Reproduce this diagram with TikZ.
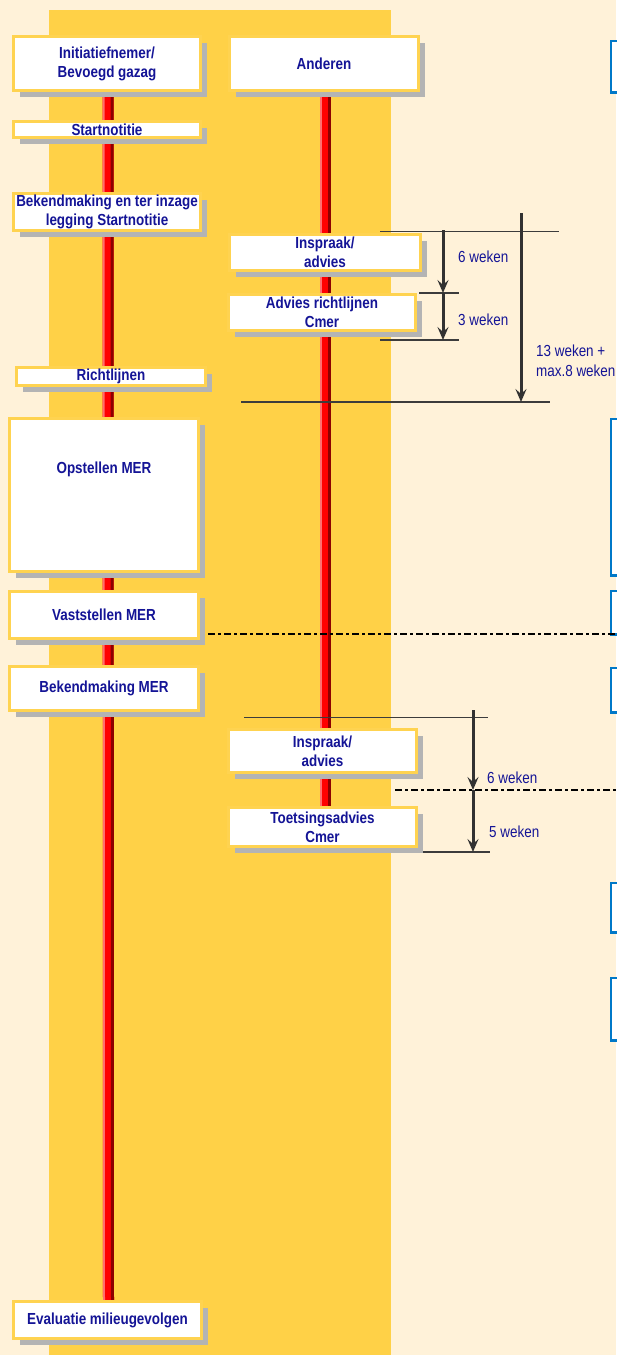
\documentclass[tikz,border=0pt]{standalone}
\usepackage{fontspec}
\setmainfont{Liberation Sans}[FakeStretch=0.84]
\usetikzlibrary{arrows.meta,shadows}
\definecolor{cream}{RGB}{255,242,217}
\definecolor{band}{RGB}{255,209,71}
\definecolor{boxyellow}{RGB}{255,211,80}
\definecolor{shadowgray}{RGB}{180,180,180}
\definecolor{navy}{RGB}{20,20,150}
\definecolor{redlight}{RGB}{255,110,110}
\definecolor{redmid}{RGB}{255,0,0}
\definecolor{reddark}{RGB}{140,0,0}
\definecolor{arrowgray}{RGB}{50,50,50}
\definecolor{thingray}{RGB}{60,60,60}
\definecolor{bluebox}{RGB}{0,120,200}
\pgfdeclarelayer{back}
\pgfdeclarelayer{mid}
\pgfsetlayers{back,mid,main}
\tikzset{
  box/.style={draw=boxyellow, line width=3pt, fill=white,
    drop shadow={shadow xshift=6pt, shadow yshift=-6pt, fill=shadowgray, opacity=1},
    font=\bfseries\fontsize{16}{19}\selectfont, text=navy, align=center, inner sep=0pt},
  boxtext/.style={font=\bfseries\fontsize{16}{19}\selectfont, text=navy, inner sep=0pt},
  bbox/.style={draw=bluebox, line width=2.5pt, fill=white,
    drop shadow={shadow xshift=6pt, shadow yshift=-6pt, fill=shadowgray, opacity=1},
    anchor=north west, minimum width=40pt, inner sep=0pt},
  lbl/.style={font=\fontsize{16}{20}\selectfont, text=navy, anchor=west, inner sep=0pt, align=left},
  arr/.style={draw=arrowgray, line width=3pt, -{Stealth[length=13pt,width=11pt,inset=5pt]}},
  thin/.style={draw=thingray, line width=1.1pt},
  dashdot/.style={draw=black, line width=2pt, dash pattern=on 7pt off 3pt on 3pt off 3pt},
  redbar/.style={draw=redmid, line width=11pt},
  redlt/.style={draw=redlight, line width=2pt},
  reddk/.style={draw=reddark, line width=3pt}
}
\begin{document}
\begin{tikzpicture}[x=1pt,y=-1pt]
\useasboundingbox (0,0) rectangle (616,1355);
\begin{pgfonlayer}{back}
  \fill[cream] (0,0) rectangle (616,1355);
  \fill[band] (49,10) rectangle (390.5,1355);
\end{pgfonlayer}

% left column
\node[box, minimum width=187pt, minimum height=54pt] (ini) at (107,63.5) {Initiatiefnemer/\\Bevoegd gazag};
\node[box, minimum width=187pt, minimum height=16pt] (start) at (107,129.5) {Startnotitie};
\node[box, minimum width=187pt, minimum height=37pt] (bek1) at (107,212) {Bekendmaking en ter inzage\\legging Startnotitie};
\node[box, minimum width=189pt, minimum height=18pt] (richt) at (111,376.5) {Richtlijnen};
\node[box, minimum width=189pt, minimum height=153pt,
      label={[boxtext, yshift=26pt]center:Opstellen MER}] (opst) at (104,495) {};
\node[box, minimum width=189pt, minimum height=47pt] (vast) at (104,615) {Vaststellen MER};
\node[box, minimum width=189pt, minimum height=44pt] (bekm) at (104,688.5) {Bekendmaking MER};
\node[box, minimum width=188pt, minimum height=37pt] (eval) at (107.5,1320) {Evaluatie milieugevolgen};

% centre column
\node[box, minimum width=189pt, minimum height=54pt] (and) at (324,63.5) {Anderen};
\node[box, minimum width=191pt, minimum height=36pt] (insp1) at (325,252.5) {Inspraak/\\advies};
\node[box, minimum width=187pt, minimum height=36pt] (adv) at (322,312.5) {Advies richtlijnen\\Cmer};
\node[box, minimum width=188pt, minimum height=43pt] (insp2) at (322.5,751) {Inspraak/\\advies};
\node[box, minimum width=188pt, minimum height=39pt] (toets) at (322.5,827) {Toetsingsadvies\\Cmer};

% right edge boxes (cut off)
\node[bbox, minimum height=51.5pt] (r1) at (609.5,39.5) {};
\node[bbox, minimum height=156.5pt] (r2) at (609.5,417.5) {};
\node[bbox, minimum height=43.5pt] (r3) at (609.5,589.5) {};
\node[bbox, minimum height=44.5pt] (r4) at (609.5,666.5) {};
\node[bbox, minimum height=49.5pt] (r5) at (609.5,881.5) {};
\node[bbox, minimum height=62.5pt] (r6) at (609.5,976.5) {};

% red time lines
\begin{pgfonlayer}{mid}
  \draw[redbar] ([xshift=1pt]ini.south) -- ([xshift=1pt]eval.north);
  \draw[redlt] ([xshift=-3.5pt]ini.south) -- ([xshift=-3.5pt]eval.north);
  \draw[reddk] ([xshift=5pt]ini.south) -- ([xshift=5pt]eval.north);
  \draw[redbar] ([xshift=1pt]and.south) -- ([xshift=2.5pt]toets.north);
  \draw[redlt] ([xshift=-3.5pt]and.south) -- ([xshift=-2pt]toets.north);
  \draw[reddk] ([xshift=5pt]and.south) -- ([xshift=6.5pt]toets.north);

  % thin marker lines
  \coordinate (h1a) at (380,231.5); \coordinate (h1b) at (559,231.5);
  \coordinate (h2a) at (419,293);   \coordinate (h2b) at (459,293);
  \coordinate (h3a) at (380,340);   \coordinate (h3b) at (459,340);
  \coordinate (h4a) at (241,402);   \coordinate (h4b) at (550,402);
  \coordinate (h5a) at (244,717.5); \coordinate (h5b) at (488,717.5);
  \coordinate (h6a) at (423,852);   \coordinate (h6b) at (490,852);
  \draw[thin] (h1a) -- (h1b);
  \draw[thin] (h2a) -- (h2b);
  \draw[thin] (h3a) -- (h3b);
  \draw[thin] (h4a) -- (h4b);
  \draw[thin] (h5a) -- (h5b);
  \draw[thin] (h6a) -- (h6b);
\end{pgfonlayer}

% duration arrows
\coordinate (a1) at (443,230);
\coordinate (a2) at (443,293);
\coordinate (a3) at (443,340);
\coordinate (c1) at (521,213);
\coordinate (c2) at (521,402);
\coordinate (e1) at (473,710);
\coordinate (e2) at (473,790);
\coordinate (e3) at (473,852);
\draw[arr] (a1) -- (a2);
\draw[arr] (a2) -- (a3);
\draw[arr] (c1) -- (c2);
\draw[arr] (e1) -- (e2);
\draw[arr] (e2) -- (e3);

% dash-dot separators
\coordinate (d1a) at (208,633.5); \coordinate (d1b) at (616,633.5);
\coordinate (d2a) at (395,790);   \coordinate (d2b) at (616,790);
\draw[dashdot] (d1a) -- (d1b);
\draw[dashdot] (d2a) -- (d2b);

% duration labels
\node[lbl] (l1) at (458,257) {6 weken};
\node[lbl] (l2) at (458,320) {3 weken};
\node[lbl] (l3) at (536,361) {13 weken +\\max.8 weken};
\node[lbl] (l4) at (487,778) {6 weken};
\node[lbl] (l5) at (489,832) {5 weken};
\end{tikzpicture}
\end{document}
